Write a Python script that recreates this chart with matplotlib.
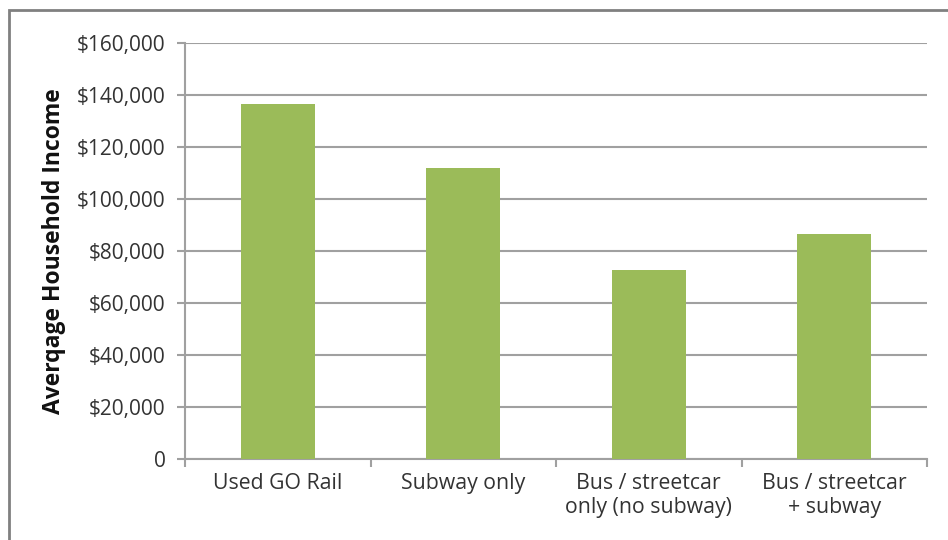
import matplotlib
matplotlib.use('Agg')
import matplotlib.pyplot as plt
from matplotlib.patches import Rectangle
from matplotlib.ticker import FuncFormatter

# dados do grafico
categorias = ['Used GO Rail', 'Subway only', 'Bus / streetcar\nonly (no subway)', 'Bus / streetcar\n+ subway']
renda = [136500, 112000, 72700, 86400]
y_ticks = [0, 20000, 40000, 60000, 80000, 100000, 120000, 140000, 160000]

plt.rcParams['font.family'] = ['Open Sans', 'DejaVu Sans']

W, H = 948, 540
fig = plt.figure(figsize=(W / 100, H / 100), dpi=100)

# moldura cinza (cortada a direita e embaixo)
fig.patches.append(Rectangle((9 / W, -0.1), 1.2, (H - 10) / H + 0.1, transform=fig.transFigure,
                             fill=False, edgecolor='#808080', linewidth=2))

ax = fig.add_axes([185 / W, 1 - 459 / H, (927 - 185) / W, (459 - 43) / H])

x = list(range(len(categorias)))
ax.bar(x, renda, width=0.4, color='#9BBB59', zorder=3)

ax.set_xlim(-0.5, len(categorias) - 0.5)
ax.set_ylim(0, 160000)
ax.set_yticks(y_ticks)
ax.yaxis.set_major_formatter(FuncFormatter(lambda v, p: '0' if v == 0 else '${:,.0f}'.format(v)))
ax.yaxis.grid(True, color='#A0A0A0', linewidth=1.5, zorder=0)

# ticks do eixo x nas divisas das categorias
ax.set_xticks([i - 0.5 for i in range(len(categorias) + 1)])
ax.set_xticklabels([])
ax.set_xticks(x, minor=True)
ax.set_xticklabels(categorias, minor=True, fontsize=15.3, color='#333333', linespacing=1.2)
ax.tick_params(axis='x', which='minor', length=0, pad=10)
ax.tick_params(axis='x', which='major', length=6, width=1.5, color='#A0A0A0')
ax.tick_params(axis='y', length=6, width=1.5, color='#A0A0A0', labelsize=15, labelcolor='#333333', pad=8)

for s in ['top', 'right']:
    ax.spines[s].set_visible(False)
for s in ['left', 'bottom']:
    ax.spines[s].set_color('#A0A0A0')
    ax.spines[s].set_linewidth(1.5)

ax.set_ylabel('Averqage Household Income', fontsize=16.5, fontweight='bold', color='#111111', labelpad=8)

fig.savefig('out.png', dpi=100)
